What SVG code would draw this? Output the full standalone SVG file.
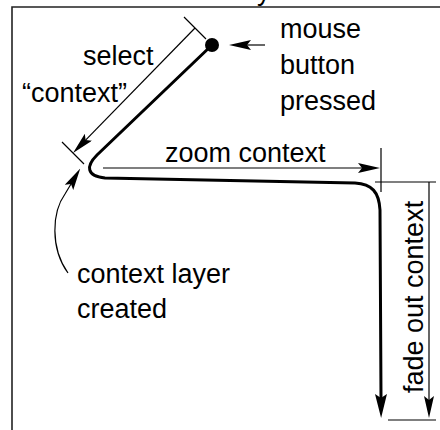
<svg xmlns="http://www.w3.org/2000/svg" width="440" height="430" viewBox="0 0 440 430">
<style>
text{font-family:"Liberation Sans",Arial,sans-serif;font-size:27px;fill:#000}
.thin{fill:none;stroke:#000;stroke-width:1.2}
.thick{fill:none;stroke:#000;stroke-width:3}
.frame{fill:none;stroke:#222;stroke-width:1.6}
</style>
<defs>
<marker id="ah" markerUnits="userSpaceOnUse" markerWidth="22" markerHeight="10" viewBox="0 0 22 10" refX="4" refY="5" orient="auto">
<path d="M0,0 L22,5 L0,10 L4,5 z" fill="#000"/>
</marker>
<marker id="ahb" markerUnits="userSpaceOnUse" markerWidth="24" markerHeight="12" viewBox="0 0 24 12" refX="4" refY="6" orient="auto">
<path d="M0,0 L24,6 L0,12 L4,6 z" fill="#000"/>
</marker>
</defs>
<g id="frame">
<path class="frame" d="M12,430 L12,7 L440,7"/>
<text x="257" y="0">y</text>
</g>
<g id="connectors">
<path id="gesture" class="thick" d="M212,45 L97,155 C86,166 86,176 105,178 L355,183 C372,184 379,192 380,210 L381,398" marker-end="url(#ahb)"/>
<path class="thin" d="M184,17 L206,39 M62,142 L84,164"/>
<path class="thin" d="M195,28 L85.6,140.1" marker-end="url(#ah)"/>
<path class="thin" d="M265,45 L247,45" marker-end="url(#ah)"/>
<path class="thin" d="M103,168 L362,168" marker-end="url(#ah)"/>
<path class="thin" d="M381,148 L381,192 M375,182 L436,182 M388,420 L436,420"/>
<path class="thin" d="M429,182 L429,400" marker-end="url(#ah)"/>
<path class="thin" d="M68,273 C50,248 52,212 65,194 L71,184" marker-end="url(#ah)"/>
</g>
<g id="start-dot"><circle cx="212" cy="45" r="7" fill="#000"/></g>
<g id="label-mouse">
<text x="280" y="38">mouse</text>
<text x="280" y="74">button</text>
<text x="280" y="110">pressed</text>
</g>
<g id="label-select">
<text x="83" y="65">select</text>
<text x="22" y="102">“context”</text>
</g>
<g id="label-zoom"><text x="165" y="162">zoom context</text></g>
<g id="label-layer">
<text x="77" y="283">context layer</text>
<text x="77" y="318">created</text>
</g>
<g id="label-fade"><text transform="translate(423,393) rotate(-90)">fade out context</text></g>
</svg>
